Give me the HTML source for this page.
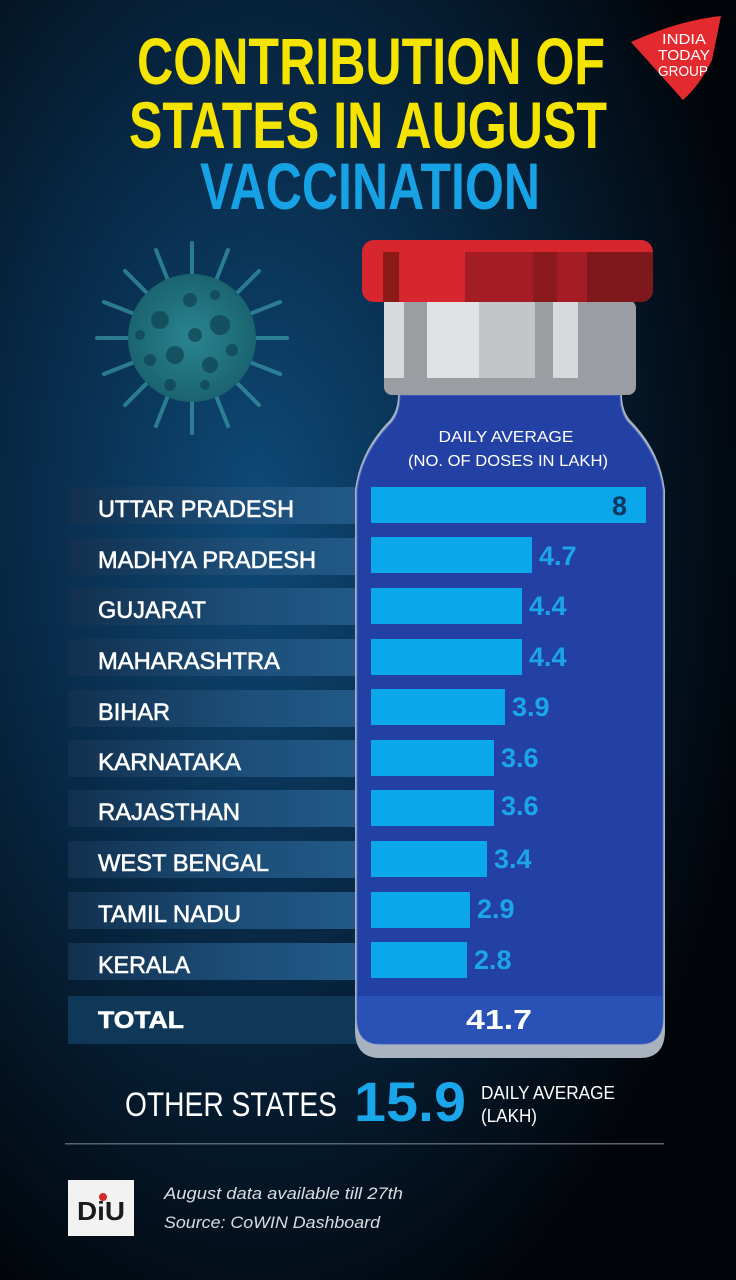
<!DOCTYPE html>
<html><head><meta charset="utf-8"><style>
html,body{margin:0;padding:0;background:#000;}
svg{display:block;}
</style></head><body>
<svg width="736" height="1280" viewBox="0 0 736 1280" xmlns="http://www.w3.org/2000/svg" font-family="Liberation Sans, sans-serif">
<defs>
<radialGradient id="bg" cx="0.35" cy="0.4" r="0.7">
<stop offset="0" stop-color="#0e4a78"/>
<stop offset="0.45" stop-color="#082a48"/>
<stop offset="1" stop-color="#010408"/>
</radialGradient>
<linearGradient id="band" x1="0" x2="1">
<stop offset="0" stop-color="#12304e"/>
<stop offset="0.6" stop-color="#1d4f7a"/>
<stop offset="1" stop-color="#225a88"/>
</linearGradient>
<radialGradient id="vir" cx="0.5" cy="0.5" r="0.5">
<stop offset="0" stop-color="#2a8590"/>
<stop offset="1" stop-color="#1a6470"/>
</radialGradient>
<clipPath id="capclip"><rect x="362" y="240" width="291" height="62" rx="12"/></clipPath>
</defs>
<rect width="736" height="1280" fill="url(#bg)"/>

<!-- title -->
<g font-weight="bold" text-anchor="middle">
<text x="371" y="84" font-size="66" fill="#f5e400" textLength="468" lengthAdjust="spacingAndGlyphs">CONTRIBUTION OF</text>
<text x="368" y="148" font-size="66" fill="#f5e400" textLength="478" lengthAdjust="spacingAndGlyphs">STATES IN AUGUST</text>
<text x="370" y="209" font-size="66" fill="#17a2e6" textLength="340" lengthAdjust="spacingAndGlyphs">VACCINATION</text>
</g>

<!-- logo -->
<path d="M631 42 Q680 20 721 16 L712 60 Q700 85 683 100 Z" fill="#e32b2f"/>
<g fill="#fff" text-anchor="middle" font-size="15">
<text x="684" y="44" textLength="44" lengthAdjust="spacingAndGlyphs">INDIA</text>
<text x="684" y="60" textLength="52" lengthAdjust="spacingAndGlyphs">TODAY</text>
<text x="683" y="76" textLength="50" lengthAdjust="spacingAndGlyphs">GROUP</text>
</g>

<!-- virus -->
<g stroke="#3a9aa8" stroke-width="4" stroke-linecap="round" opacity="0.7">
<line x1="252" y1="338" x2="287" y2="338"/><line x1="247" y1="361" x2="280" y2="374"/>
<line x1="234" y1="380" x2="259" y2="405"/><line x1="215" y1="393" x2="228" y2="426"/>
<line x1="192" y1="398" x2="192" y2="433"/><line x1="169" y1="393" x2="156" y2="426"/>
<line x1="150" y1="380" x2="125" y2="405"/><line x1="137" y1="361" x2="104" y2="374"/>
<line x1="132" y1="338" x2="97" y2="338"/><line x1="137" y1="315" x2="104" y2="302"/>
<line x1="150" y1="296" x2="125" y2="271"/><line x1="169" y1="283" x2="156" y2="250"/>
<line x1="192" y1="278" x2="192" y2="243"/><line x1="215" y1="283" x2="228" y2="250"/>
<line x1="234" y1="296" x2="259" y2="271"/><line x1="247" y1="315" x2="280" y2="302"/>
</g>
<circle cx="192" cy="338" r="64" fill="url(#vir)"/>
<g fill="#0f4252" opacity="0.7">
<circle cx="160" cy="320" r="9"/><circle cx="190" cy="300" r="7"/><circle cx="220" cy="325" r="10"/>
<circle cx="175" cy="355" r="9"/><circle cx="210" cy="365" r="8"/><circle cx="150" cy="360" r="6"/>
<circle cx="232" cy="350" r="6"/><circle cx="195" cy="335" r="7"/><circle cx="170" cy="385" r="6"/>
<circle cx="205" cy="385" r="5"/><circle cx="140" cy="335" r="5"/><circle cx="215" cy="295" r="5"/>
</g>

<!-- row bands -->
<g fill="url(#band)">
<rect x="68" y="487" width="300" height="37"/>
<rect x="68" y="538" width="300" height="37"/>
<rect x="68" y="588" width="300" height="37"/>
<rect x="68" y="639" width="300" height="37"/>
<rect x="68" y="690" width="300" height="37"/>
<rect x="68" y="740" width="300" height="37"/>
<rect x="68" y="790" width="300" height="37"/>
<rect x="68" y="841" width="300" height="37"/>
<rect x="68" y="892" width="300" height="37"/>
<rect x="68" y="943" width="300" height="37"/>
<rect x="68" y="996" width="300" height="48" fill="#0f3858"/>
</g>

<!-- bottle -->
<path d="M355 1000 L355 490 Q360 450 390 420 Q398 410 398 395 L622 395 Q622 410 630 420 Q660 450 665 490 L665 1030 Q665 1058 640 1058 L380 1058 Q355 1058 355 1030 Z" fill="#a9b3bf"/>
<path d="M357 990 L357 490 Q362 452 392 422 Q400 412 400 395 L620 395 Q620 412 628 422 Q658 452 663 490 L663 1018 Q663 1044 640 1044 L380 1044 Q357 1044 357 1018 Z" fill="#2340a4" stroke="#4a6cc8" stroke-width="1"/>
<path d="M358 996 L662 996 L662 1018 Q662 1043 640 1043 L380 1043 Q358 1043 358 1018 Z" fill="#2a52b6"/>
<!-- neck -->
<rect x="384" y="300" width="252" height="95" rx="8" fill="#9a9ea3"/>
<rect x="384" y="300" width="20" height="78" fill="#d7d9dc"/>
<rect x="427" y="300" width="52" height="78" fill="#e0e2e4"/>
<rect x="479" y="300" width="56" height="78" fill="#c3c6c9"/>
<rect x="553" y="300" width="25" height="78" fill="#d7d9dc"/>
<!-- cap -->
<g clip-path="url(#capclip)">
<rect x="362" y="240" width="291" height="62" fill="#d8262e"/>
<rect x="383" y="252" width="16" height="50" fill="#8c1a16"/>
<rect x="465" y="252" width="68" height="50" fill="#a41c24"/>
<rect x="533" y="252" width="24" height="50" fill="#8a1a1e"/>
<rect x="557" y="252" width="30" height="50" fill="#a41c24"/>
<rect x="587" y="252" width="66" height="50" fill="#7e181c"/>
</g>

<g fill="#fff" text-anchor="middle" font-size="16">
<text x="506" y="442" textLength="135" lengthAdjust="spacingAndGlyphs">DAILY AVERAGE</text>
<text x="508" y="466" textLength="200" lengthAdjust="spacingAndGlyphs">(NO. OF DOSES IN LAKH)</text>
</g>

<!-- bars -->
<g fill="#0aa8ea">
<rect x="371" y="487" width="275" height="36"/>
<rect x="371" y="537" width="161" height="36"/>
<rect x="371" y="588" width="151" height="36"/>
<rect x="371" y="639" width="151" height="36"/>
<rect x="371" y="689" width="134" height="36"/>
<rect x="371" y="740" width="123" height="36"/>
<rect x="371" y="790" width="123" height="36"/>
<rect x="371" y="841" width="116" height="36"/>
<rect x="371" y="892" width="99" height="36"/>
<rect x="371" y="942" width="96" height="36"/>
</g>
<g font-weight="bold" font-size="27" fill="#1ba6ea">
<text x="612" y="515" fill="#0d3760">8</text>
<text x="539" y="565">4.7</text>
<text x="529" y="615">4.4</text>
<text x="529" y="666">4.4</text>
<text x="512" y="716">3.9</text>
<text x="501" y="767">3.6</text>
<text x="501" y="815">3.6</text>
<text x="494" y="868">3.4</text>
<text x="477" y="918">2.9</text>
<text x="474" y="969">2.8</text>
</g>
<text x="466" y="1029" font-weight="bold" font-size="28" fill="#fff" textLength="66" lengthAdjust="spacingAndGlyphs">41.7</text>

<!-- labels -->
<g fill="#fff" font-size="24" stroke="#fff" stroke-width="0.6">
<text x="98" y="517" textLength="196" lengthAdjust="spacingAndGlyphs">UTTAR PRADESH</text>
<text x="98" y="568" textLength="218" lengthAdjust="spacingAndGlyphs">MADHYA PRADESH</text>
<text x="98" y="618" textLength="108" lengthAdjust="spacingAndGlyphs">GUJARAT</text>
<text x="98" y="669" textLength="182" lengthAdjust="spacingAndGlyphs">MAHARASHTRA</text>
<text x="98" y="720" textLength="72" lengthAdjust="spacingAndGlyphs">BIHAR</text>
<text x="98" y="770" textLength="143" lengthAdjust="spacingAndGlyphs">KARNATAKA</text>
<text x="98" y="820" textLength="142" lengthAdjust="spacingAndGlyphs">RAJASTHAN</text>
<text x="98" y="871" textLength="171" lengthAdjust="spacingAndGlyphs">WEST BENGAL</text>
<text x="98" y="922" textLength="143" lengthAdjust="spacingAndGlyphs">TAMIL NADU</text>
<text x="98" y="973" textLength="92" lengthAdjust="spacingAndGlyphs">KERALA</text>
<text x="98" y="1028" font-weight="bold" textLength="86" lengthAdjust="spacingAndGlyphs">TOTAL</text>
</g>

<!-- other states -->
<text x="125" y="1116" fill="#fff" font-size="34" textLength="212" lengthAdjust="spacingAndGlyphs">OTHER STATES</text>
<text x="354" y="1121" fill="#1aa6ea" font-size="56" font-weight="bold" textLength="112" lengthAdjust="spacingAndGlyphs">15.9</text>
<g fill="#fff" font-size="18">
<text x="481" y="1099" textLength="134" lengthAdjust="spacingAndGlyphs">DAILY AVERAGE</text>
<text x="481" y="1122" textLength="56" lengthAdjust="spacingAndGlyphs">(LAKH)</text>
</g>
<rect x="65" y="1143" width="599" height="1.5" fill="#5a6470"/>

<!-- footer -->
<rect x="68" y="1180" width="66" height="56" fill="#f2f2f2"/>
<text x="101" y="1220" text-anchor="middle" font-weight="bold" font-size="26" fill="#1a1a1a" textLength="48" lengthAdjust="spacingAndGlyphs">DiU</text>
<circle cx="103" cy="1197" r="4" fill="#d32a2a"/>
<g fill="#d8dde2" font-style="italic" font-size="17">
<text x="164" y="1199" textLength="239" lengthAdjust="spacingAndGlyphs">August data available till 27th</text>
<text x="164" y="1228" textLength="216" lengthAdjust="spacingAndGlyphs">Source: CoWIN Dashboard</text>
</g>
</svg>
</body></html>
